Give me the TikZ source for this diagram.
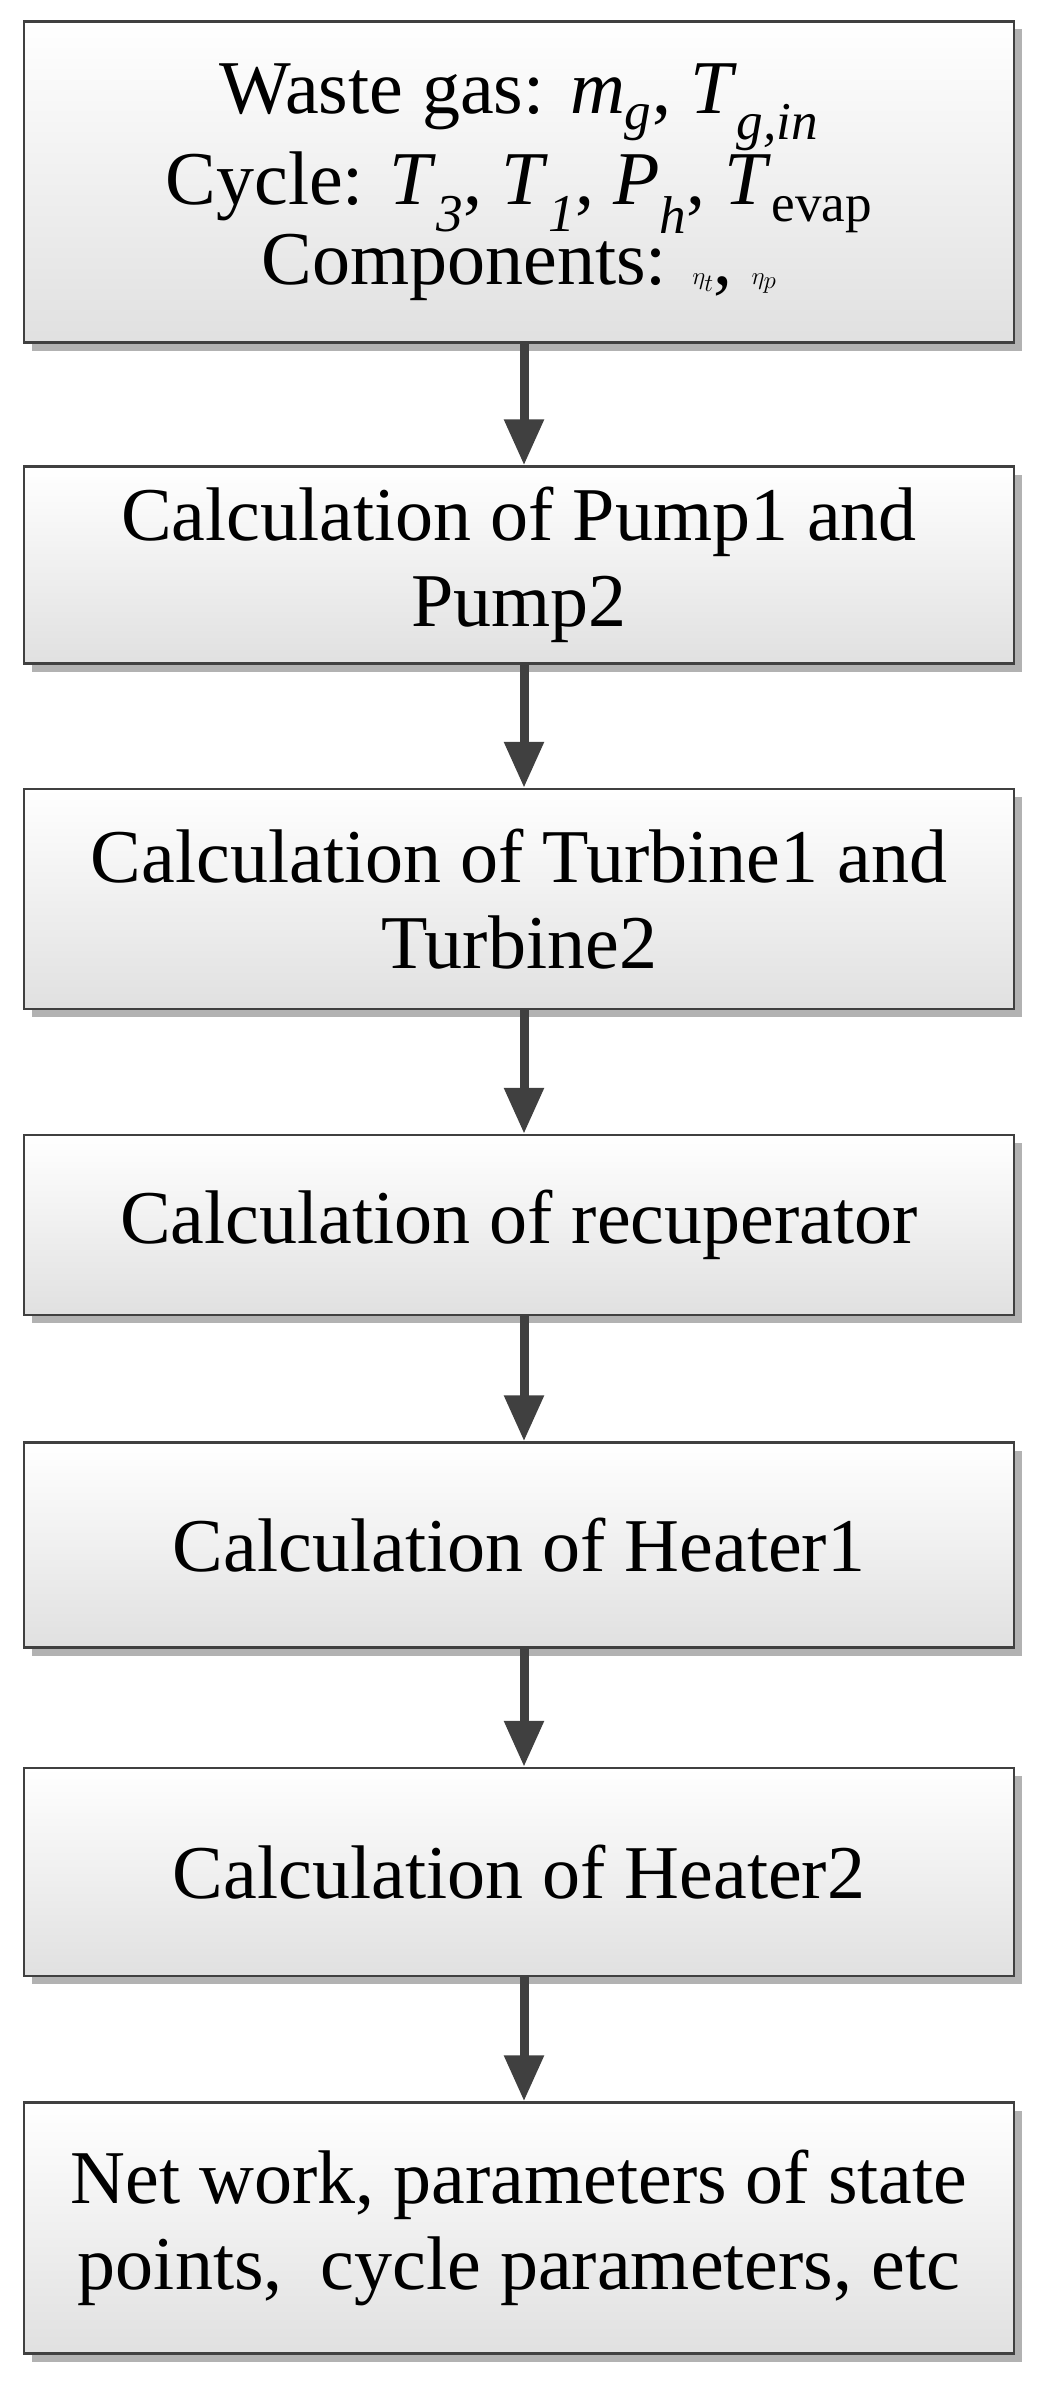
\documentclass[tikz,border=0pt]{standalone}
\usepackage{fontspec}
\setmainfont{Liberation Serif}
\usetikzlibrary{arrows.meta,shadows,positioning}
\tikzset{
	stepbox/.style={draw=black!75,line width=2.5pt,top color=white,bottom color=black!12,
		minimum width=990pt,align=center,font=\fontsize{76}{86}\selectfont,
		drop shadow={shadow xshift=8pt,shadow yshift=-8pt,fill=black!30,opacity=1}},
	flow/.style={draw=black!75,line width=9pt,-{Triangle[length=46pt,width=38pt]}}
}
\begin{document}
\begin{tikzpicture}[x=1pt,y=-1pt]
		
		%%Frame
		\useasboundingbox (0,0) rectangle (1049,2381);
		
		%%Steps
		\node[stepbox,minimum height=321pt,font=\fontsize{76}{76}\selectfont] (input) at (519,182)
			{Waste gas: \textit{m}\textsubscript{\textit{g}}, \textit{T}\textsubscript{\textit{g,in}}\\
			Cycle: \textit{T}\textsubscript{\textit{3}}, \textit{T}\textsubscript{\textit{1}}, \textit{P}\textsubscript{\textit{h}}, \textit{T}\textsubscript{evap}\\
			Components: $\eta_{t}$, $\eta_{p}$};
		\node[stepbox,minimum height=197pt] (pump) at (519,565) {Calculation of Pump1 and\\Pump2};
		\node[stepbox,minimum height=220pt] (turb) at (519,899) {Calculation of Turbine1 and\\Turbine2};
		\node[stepbox,minimum height=180pt] (recup) at (519,1225) {Calculation of recuperator};
		\node[stepbox,minimum height=205pt] (heatA) at (519,1545) {Calculation of Heater1};
		\node[stepbox,minimum height=208pt] (heatB) at (519,1872) {Calculation of Heater2};
		\node[stepbox,minimum height=251pt] (result) at (519,2228)
			{Net work, parameters of state\\points,\ \ cycle parameters, etc};
		
		%%Flow
		\draw[flow] (input.south) ++(5,0) coordinate (a1) -- (a1 |- pump.north);
		\draw[flow] (pump.south) ++(5,0) coordinate (a2) -- (a2 |- turb.north);
		\draw[flow] (turb.south) ++(5,0) coordinate (a3) -- (a3 |- recup.north);
		\draw[flow] (recup.south) ++(5,0) coordinate (a4) -- (a4 |- heatA.north);
		\draw[flow] (heatA.south) ++(5,0) coordinate (a5) -- (a5 |- heatB.north);
		\draw[flow] (heatB.south) ++(5,0) coordinate (a6) -- (a6 |- result.north);
		\end{tikzpicture}
\end{document}
